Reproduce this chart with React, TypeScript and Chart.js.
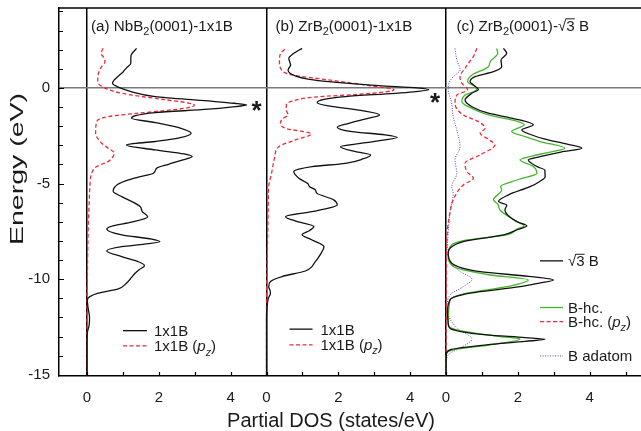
import React, { useEffect, useRef } from "react";
import { Chart, registerables } from "chart.js";

Chart.register(...registerables);

// ---------- data: [energy (eV), partial DOS (states/eV)] ----------
const nb1x1B: [number, number][] = [
  [2.07, 1.38], [1.9, 1.3], [1.72, 1.23], [1.5, 1.22], [1.29, 1.22], [1.05, 1.1], [0.85, 1.01], [0.6, 0.86],
  [0.42, 0.76], [0.24, 0.71], [0.04, 0.87], [-0.2, 1.25], [-0.45, 1.9], [-0.68, 3.38], [-0.8, 4.1], [-0.89, 4.45],
  [-1.0, 4.0], [-1.11, 3.38], [-1.29, 1.9], [-1.45, 1.35], [-1.58, 1.24], [-1.81, 1.9], [-2.1, 2.6], [-2.37, 2.9],
  [-2.6, 2.6], [-2.8, 1.9], [-2.98, 1.1], [-3.24, 1.9], [-3.45, 2.7], [-3.59, 2.93], [-3.8, 2.6], [-3.99, 2.27],
  [-4.2, 1.94], [-4.46, 1.85], [-4.65, 1.45], [-4.81, 1.15], [-5.05, 0.85], [-5.24, 0.75], [-5.42, 0.73],
  [-5.68, 0.97], [-6.2, 1.48], [-6.47, 1.54], [-6.73, 1.69], [-7.02, 1.24], [-7.2, 0.75], [-7.37, 0.55],
  [-7.68, 0.97], [-7.9, 1.8], [-8.03, 2.03], [-8.17, 1.6], [-8.3, 0.97], [-8.52, 0.55], [-8.82, 0.97],
  [-9.1, 1.45], [-9.29, 1.6], [-9.5, 1.45], [-9.69, 1.34], [-10.0, 1.2], [-10.21, 1.1], [-10.5, 0.87],
  [-10.73, 0.31], [-10.91, 0.08], [-11.08, 0.01], [-11.5, 0.03], [-12.0, 0.07], [-12.4, 0.06], [-12.8, 0.01],
  [-13.5, 0], [-15.06, 0],
];
const nb1x1Bpz: [number, number][] = [
  [2.07, 0.45], [1.81, 0.39], [1.6, 0.46], [1.37, 0.5], [1.1, 0.4], [0.77, 0.32], [0.33, 0.3], [0.04, 0.45],
  [-0.28, 0.97], [-0.59, 2.08], [-0.78, 2.8], [-0.89, 2.99], [-1.06, 2.73], [-1.32, 1.43], [-1.5, 0.59],
  [-1.76, 0.27], [-2.37, 0.24], [-2.89, 0.41], [-3.15, 0.59], [-3.41, 0.76], [-3.6, 0.72], [-3.85, 0.59],
  [-4.11, 0.27], [-4.46, 0.13], [-5.16, 0.08], [-6, 0.06], [-7, 0.04], [-8.5, 0.02], [-10, 0.01], [-11, 0],
  [-15.06, 0],
];
const zr1x1B: [number, number][] = [
  [2.07, 0.99], [1.81, 0.76], [1.55, 0.62], [1.2, 0.67], [0.94, 0.6], [0.63, 0.8], [0.45, 1.2], [0.33, 1.73],
  [0.12, 3.13], [0.0, 4.2], [-0.1, 4.52], [-0.2, 4.1], [-0.28, 3.59], [-0.45, 2.2], [-0.6, 1.6], [-0.77, 1.41],
  [-0.94, 1.73], [-1.2, 2.7], [-1.41, 3.15], [-1.6, 2.8], [-1.85, 2.29], [-2.05, 1.97], [-2.28, 2.38],
  [-2.45, 3.3], [-2.58, 3.64], [-2.72, 3.3], [-2.89, 2.66], [-3.07, 2.06], [-3.33, 2.48], [-3.5, 2.9],
  [-3.7, 2.7], [-3.94, 2.2], [-4.11, 1.27], [-4.25, 0.9], [-4.37, 0.76], [-4.72, 0.9], [-5.0, 1.15],
  [-5.16, 1.2], [-5.33, 1.36], [-5.5, 1.4], [-5.85, 1.87], [-6.12, 1.97], [-6.3, 1.7], [-6.47, 1.27],
  [-6.73, 0.53], [-6.95, 0.8], [-7.25, 1.32], [-7.45, 1.2], [-7.68, 0.99], [-7.95, 1.27], [-8.3, 1.6],
  [-8.7, 1.5], [-9.08, 1.36], [-9.57, 1.08], [-9.86, 0.43], [-10.12, 0.11], [-10.39, 0.06], [-10.6, 0.1],
  [-10.73, 0.11], [-11.0, 0.05], [-11.34, 0.02], [-12, 0], [-15.06, 0],
];
const zr1x1Bpz: [number, number][] = [
  [2.02, 0.51], [1.81, 0.39], [1.37, 0.36], [0.94, 0.42], [0.68, 0.71], [0.42, 1.73], [0.1, 2.94], [-0.1, 3.55],
  [-0.28, 2.94], [-0.49, 1.27], [-0.72, 0.67], [-0.95, 0.55], [-1.15, 0.55], [-1.41, 0.6], [-1.6, 0.45],
  [-1.81, 0.39], [-2.11, 0.53], [-2.4, 1.25], [-2.72, 0.8], [-3.07, 0.34], [-3.59, 0.23], [-4.46, 0.14],
  [-5.16, 0.06], [-6, 0.05], [-7, 0.04], [-8, 0.03], [-9, 0.02], [-10, 0.01], [-11, 0], [-15.06, 0],
];
const sqrt3B: [number, number][] = [
  [2.07, 1.6], [1.81, 1.69], [1.46, 1.53], [1.11, 1.55], [0.85, 1.32], [0.59, 0.81], [0.33, 0.67], [0.16, 0.76],
  [-0.07, 0.9], [-0.28, 0.72], [-0.63, 0.53], [-0.98, 0.72], [-1.32, 1.18], [-1.58, 1.83], [-1.93, 2.43],
  [-2.2, 2.11], [-2.46, 2.39], [-2.68, 2.76], [-2.95, 3.4], [-3.15, 3.78], [-3.35, 3.2], [-3.59, 2.62],
  [-3.76, 2.29], [-4.11, 2.53], [-4.3, 2.75], [-4.64, 2.76], [-4.9, 2.6], [-5.16, 2.34], [-5.59, 1.74],
  [-5.94, 1.46], [-6.12, 1.69], [-6.38, 1.64], [-6.99, 1.97], [-7.21, 2.25], [-7.4, 2.0], [-7.68, 1.6],
  [-8.03, 0.48], [-8.38, 0.11], [-8.64, 0.06], [-9.16, 0.16], [-9.6, 0.95], [-9.85, 2.3], [-10.04, 2.99],
  [-10.2, 2.6], [-10.39, 2.06], [-10.73, 0.67], [-11.08, 0.11], [-11.78, 0.04], [-12.3, 0.06], [-12.56, 0.11],
  [-12.91, 1.13], [-13.05, 2.2], [-13.14, 2.76], [-13.25, 2.2], [-13.43, 1.13], [-13.69, 0.11], [-13.9, 0.01],
  [-15.06, 0],
];
const bHc: [number, number][] = [
  [2.07, 1.41], [1.81, 1.44], [1.37, 1.23], [1.11, 1.18], [0.68, 0.72], [0.33, 0.6], [0.07, 0.81], [-0.1, 0.85],
  [-0.37, 0.53], [-0.72, 0.44], [-0.98, 0.62], [-1.41, 1.18], [-1.76, 2.01], [-1.93, 2.18], [-2.28, 1.83],
  [-2.55, 2.2], [-2.8, 2.62], [-3.15, 3.31], [-3.35, 2.9], [-3.59, 2.34], [-3.76, 2.06], [-4.11, 2.43],
  [-4.46, 2.53], [-4.8, 2.0], [-5.16, 1.52], [-5.33, 1.55], [-5.85, 1.32], [-6.1, 1.45], [-6.38, 1.5],
  [-7.07, 2.06], [-7.2, 2.17], [-7.4, 1.95], [-7.68, 1.69], [-7.95, 0.58], [-8.2, 0.16], [-8.73, 0.06],
  [-9.34, 0.2], [-9.78, 1.23], [-10.04, 2.29], [-10.39, 1.69], [-10.73, 0.58], [-11.08, 0.11], [-12.39, 0.06],
  [-12.69, 0.39], [-13.0, 1.5], [-13.12, 2.06], [-13.43, 1.23], [-13.69, 0.2], [-13.9, 0.01], [-15.06, 0],
];
const bHcPz: [number, number][] = [
  [2.07, 0.86], [1.64, 0.76], [1.29, 0.62], [1.03, 0.53], [0.59, 0.39], [0.25, 0.44], [-0.1, 0.6], [-0.37, 0.3],
  [-0.8, 0.25], [-1.41, 0.48], [-1.76, 0.9], [-2.11, 1.09], [-2.37, 0.95], [-2.68, 1.18], [-2.98, 1.36],
  [-3.5, 0.95], [-3.94, 0.53], [-4.37, 0.58], [-4.72, 0.76], [-5.07, 0.48], [-5.85, 0.2], [-6.5, 0.11],
  [-8, 0.02], [-10, 0.01], [-15.06, 0],
];
const bAdatom: [number, number][] = [
  [2.07, 0.25], [1.46, 0.3], [0.94, 0.39], [0.59, 0.2], [0.25, 0.08], [-0.1, 0.06], [-0.63, 0.14], [-1.5, 0.2],
  [-2.2, 0.3], [-3.07, 0.39], [-3.76, 0.25], [-4.46, 0.3], [-5.16, 0.16], [-5.5, 0.2], [-6.5, 0.11],
  [-7.6, 0.06], [-8.6, 0.03], [-9.25, 0.2], [-9.6, 0.39], [-10.0, 0.72], [-10.39, 0.48], [-10.82, 0.11],
  [-11.5, 0.03], [-12.56, 0.3], [-13.12, 0.72], [-13.6, 0.39], [-13.87, 0.11], [-14.3, 0.01], [-15.06, 0],
];

// panel offsets along the shared horizontal axis
const panelOffsets = [0, 5, 10];
const xTickValues = [0, 1, 2, 3, 4, 5, 6, 7, 8, 9, 10, 11, 12, 13, 14, 15];
const yTickValues = [-15, -14, -13, -12, -11, -10, -9, -8, -7, -6, -5, -4, -3, -2, -1, 0, 1, 2, 3, 4];
const xMin = -0.78;
const xMax = 15.43;
const yMin = -15.06;
const yMax = 4.18;

const FONT = "'Liberation Sans', Arial, Helvetica, sans-serif";
const BLACK = "#111111";
const RED = "#ee2a3a";
const GREEN = "#44b52c";
const BLUE = "#4848c0";

function toPoints(series: [number, number][], offset: number) {
  return series.map(([e, v]) => ({ x: v + offset, y: e }));
}

function localLabel(u: number): string {
  const p = u < 5 ? 0 : u < 10 ? 1 : 2;
  const local = u - panelOffsets[p];
  return local % 2 === 0 ? String(local) : "";
}

type Part = { t: string; sub?: boolean; it?: boolean; over?: boolean };

// draws on an alphabetic baseline
function drawRich(ctx: CanvasRenderingContext2D, x: number, y: number, parts: Part[], size: number) {
  let cx = x;
  ctx.textBaseline = "alphabetic";
  ctx.textAlign = "left";
  for (const p of parts) {
    const s = p.sub ? size * 0.72 : size;
    ctx.font = `${p.it ? "italic " : ""}${s}px ${FONT}`;
    const dy = p.sub ? size * 0.28 : 0;
    ctx.fillText(p.t, cx, y + dy);
    const w = ctx.measureText(p.t).width;
    if (p.over) {
      ctx.save();
      ctx.lineWidth = 1;
      ctx.strokeStyle = ctx.fillStyle as string;
      ctx.beginPath();
      ctx.moveTo(cx - 0.5, y - size * 0.8);
      ctx.lineTo(cx + w, y - size * 0.8);
      ctx.stroke();
      ctx.restore();
    }
    cx += w;
  }
}

function sampleLine(ctx: CanvasRenderingContext2D, x1: number, x2: number, y: number, color: string, dash: number[], w: number) {
  ctx.save();
  ctx.strokeStyle = color;
  ctx.lineWidth = w;
  ctx.setLineDash(dash);
  ctx.beginPath();
  ctx.moveTo(x1, y);
  ctx.lineTo(x2, y);
  ctx.stroke();
  ctx.restore();
}

const overlayPlugin = {
  id: "overlay",
  afterDraw(chart: any) {
    const { ctx, chartArea: ca } = chart;
    const xs = chart.scales.x;
    const ys = chart.scales.y;
    ctx.save();
    // top frame line
    ctx.strokeStyle = "#000";
    ctx.lineWidth = 1.5;
    ctx.beginPath();
    ctx.moveTo(ca.left, ca.top);
    ctx.lineTo(ca.right, ca.top);
    ctx.stroke();
    // inward tick marks
    ctx.lineWidth = 1.2;
    ctx.beginPath();
    for (const v of xTickValues) {
      const px = Math.round(xs.getPixelForValue(v)) + 0.5;
      ctx.moveTo(px, ca.bottom);
      ctx.lineTo(px, ca.bottom - 4);
    }
    for (const v of yTickValues) {
      const py = Math.round(ys.getPixelForValue(v)) + 0.5;
      ctx.moveTo(ca.left, py);
      ctx.lineTo(ca.left + (v % 5 === 0 ? 5 : 4), py);
    }
    ctx.stroke();

    ctx.fillStyle = "#1a1a1a";
    const p0 = panelOffsets.map((o) => xs.getPixelForValue(o));
    const titleY = ca.top + 23;
    const ts = 15.2;
    drawRich(ctx, p0[0] + 4, titleY, [{ t: "(a) NbB" }, { t: "2", sub: true }, { t: "(0001)-1x1B" }], ts);
    drawRich(ctx, p0[1] + 9, titleY, [{ t: "(b) ZrB" }, { t: "2", sub: true }, { t: "(0001)-1x1B" }], ts);
    drawRich(ctx, p0[2] + 10.5, titleY, [{ t: "(c) ZrB" }, { t: "2", sub: true }, { t: "(0001)-\u221A" }, { t: "3", over: true }, { t: " B" }], ts);

    // asterisks
    ctx.font = `bold 26px ${FONT}`;
    const m = ctx.measureText("*");
    const stars = [
      [p0[0] + 169.5, ys.getPixelForValue(-0.95)],
      [p0[1] + 168.6, ys.getPixelForValue(-0.5)],
    ];
    ctx.textAlign = "center";
    ctx.textBaseline = "alphabetic";
    for (const [sx, sy] of stars) {
      ctx.fillText("*", sx, sy + (m.actualBoundingBoxAscent - m.actualBoundingBoxDescent) / 2);
    }

    // legends
    const ls = 15;
    const leg = (px: number, e: number, x1: number, x2: number, tx: number, color: string, dash: number[], w: number, parts: Part[]) => {
      const py = ys.getPixelForValue(e);
      sampleLine(ctx, px + x1, px + x2, py, color, dash, w);
      drawRich(ctx, px + tx, py + ls * 0.36, parts, ls);
    };
    leg(p0[0], -12.69, 36, 60, 67, BLACK, [], 1.3, [{ t: "1x1B" }]);
    leg(p0[0], -13.49, 36, 60, 67, RED, [4, 2.5], 1.3, [{ t: "1x1B (" }, { t: "p", it: true }, { t: "z", it: true, sub: true }, { t: ")" }]);
    leg(p0[1], -12.61, 23, 46, 54, BLACK, [], 1.3, [{ t: "1x1B" }]);
    leg(p0[1], -13.43, 23, 46, 54, RED, [4, 2.5], 1.3, [{ t: "1x1B (" }, { t: "p", it: true }, { t: "z", it: true, sub: true }, { t: ")" }]);
    leg(p0[2], -9.04, 94, 117, 122, BLACK, [], 1.3, [{ t: "\u221A" }, { t: "3", over: true }, { t: " B" }]);
    leg(p0[2], -11.48, 94, 117, 122, GREEN, [], 1.3, [{ t: "B-hc." }]);
    leg(p0[2], -12.22, 94, 117, 122, RED, [4, 2.5], 1.3, [{ t: "B-hc. (" }, { t: "p", it: true }, { t: "z", it: true, sub: true }, { t: ")" }]);
    leg(p0[2], -14.01, 94, 117, 122, BLUE, [1, 1.5], 1, [{ t: "B adatom" }]);

    // axis titles
    ctx.font = `20px ${FONT}`;
    ctx.textAlign = "center";
    ctx.textBaseline = "middle";
    ctx.fillText("Partial DOS (states/eV)", 331, 421);
    ctx.save();
    ctx.translate(18, 169);
    ctx.rotate(-Math.PI / 2);
    ctx.scale(1.5, 1);
    ctx.font = `19px ${FONT}`;
    ctx.fillText("Energy (eV)", 0, 0);
    ctx.restore();
    ctx.restore();
  },
};

export default function App() {
  const ref = useRef<HTMLCanvasElement | null>(null);
  useEffect(() => {
    if (!ref.current) return;
    const line = (data: any, color: string, dash: number[], w: number) => ({
      data,
      showLine: true,
      indexAxis: "y",
      borderColor: color,
      borderWidth: w,
      borderDash: dash,
      pointRadius: 0,
      cubicInterpolationMode: "monotone",
      fill: false,
    });
    const noPad = (s: any) => {
      s.paddingTop = 0;
      s.paddingBottom = 0;
      s.paddingLeft = 0;
      s.paddingRight = 0;
    };
    const chart = new Chart(ref.current, {
      type: "scatter",
      data: {
        datasets: [
          line(toPoints(sqrt3B, panelOffsets[2]), BLACK, [], 1.3),
          line(toPoints(nb1x1B, panelOffsets[0]), BLACK, [], 1.3),
          line(toPoints(zr1x1B, panelOffsets[1]), BLACK, [], 1.3),
          line(toPoints(bHc, panelOffsets[2]), GREEN, [], 1.3),
          line(toPoints(nb1x1Bpz, panelOffsets[0]), RED, [4, 2.5], 1.3),
          line(toPoints(zr1x1Bpz, panelOffsets[1]), RED, [4, 2.5], 1.3),
          line(toPoints(bHcPz, panelOffsets[2]), RED, [4, 2.5], 1.3),
          line(toPoints(bAdatom, panelOffsets[2]), BLUE, [1, 1.5], 1),
        ],
      },
      options: {
        animation: false,
        responsive: false,
        devicePixelRatio: 1,
        layout: { padding: { top: 8, left: 0, right: 0, bottom: 0 } },
        plugins: { legend: { display: false }, tooltip: { enabled: false } },
        events: [],
        scales: {
          x: {
            type: "linear",
            position: "bottom",
            min: xMin,
            max: xMax,
            afterBuildTicks: (s: any) => {
              s.ticks = xTickValues.map((v) => ({ value: v }));
            },
            afterFit: (s: any) => {
              s.height = 55;
              noPad(s);
            },
            ticks: {
              autoSkip: false,
              maxRotation: 0,
              padding: 13,
              color: "#1a1a1a",
              font: { family: FONT, size: 15 },
              callback: (v: any) => localLabel(Number(v)),
            },
            grid: {
              drawTicks: false,
              lineWidth: 1.5,
              color: (c: any) => (c.tick && [0, 5, 10].includes(c.tick.value) ? "#000" : "rgba(0,0,0,0)"),
            },
            border: { display: true, color: "#000", width: 1.5 },
          },
          y: {
            type: "linear",
            position: "left",
            min: yMin,
            max: yMax,
            afterBuildTicks: (s: any) => {
              s.ticks = yTickValues.map((v) => ({ value: v }));
            },
            afterFit: (s: any) => {
              s.width = 59;
              noPad(s);
            },
            ticks: {
              autoSkip: false,
              padding: 9,
              color: "#1a1a1a",
              font: { family: FONT, size: 15 },
              callback: (v: any) => (Number(v) % 5 === 0 ? String(v) : ""),
            },
            grid: {
              drawTicks: false,
              lineWidth: 1.5,
              color: (c: any) => (c.tick && c.tick.value === 0 ? "#7a7a7a" : "rgba(0,0,0,0)"),
            },
            border: { display: true, color: "#000", width: 1.5 },
          },
        },
      },
      plugins: [overlayPlugin],
    } as any);
    return () => chart.destroy();
  }, []);
  return (
    <div style={{ position: "absolute", left: 0, top: 0, width: 641, height: 431, background: "#fff" }}>
      <canvas ref={ref} width={641} height={431} style={{ width: 641, height: 431, display: "block" }} />
    </div>
  );
}
